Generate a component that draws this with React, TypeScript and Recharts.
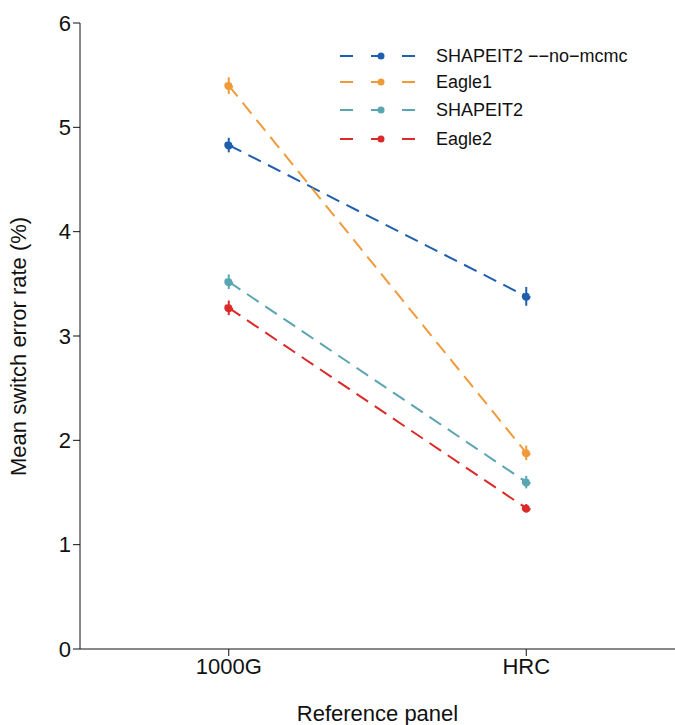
import React from 'react';
import { LineChart, Line, XAxis, YAxis, ErrorBar } from 'recharts';

const panels = ['1000G', 'HRC'];
const seriesNames = ['SHAPEIT2 --no-mcmc', 'Eagle1', 'SHAPEIT2', 'Eagle2'];
const colors = ['#1f5fad', '#f09a3a', '#5aa6b0', '#dc2a2a'];
const noMcmc = [4.83, 3.38];
const eagle1 = [5.40, 1.88];
const shapeit2 = [3.52, 1.60];
const eagle2 = [3.27, 1.35];
const noMcmcErr = [0.07, 0.09];
const eagle1Err = [0.08, 0.07];
const shapeit2Err = [0.07, 0.06];
const eagle2Err = [0.07, 0.04];

const values = [noMcmc, eagle1, shapeit2, eagle2];
const errors = [noMcmcErr, eagle1Err, shapeit2Err, eagle2Err];

const data = panels.map((p, i) => {
  const row: any = { x: i, name: p };
  values.forEach((v, s) => {
    row[`s${s}`] = v[i];
    row[`e${s}`] = errors[s][i];
  });
  return row;
});

const font = '"Liberation Sans", Arial, sans-serif';

const LegendBox = () => (
  <svg style={{ position: 'absolute', left: 0, top: 0 }} width={675} height={200}>
    {seriesNames.map((n, i) => {
      const y = [56, 82, 110, 139][i];
      return (
        <g key={n}>
          <line x1={340} x2={420} y1={y} y2={y} stroke={colors[i]} strokeWidth={2} strokeDasharray="13 18" />
          <circle cx={381} cy={y} r={3.5} fill={colors[i]} />
          <text x={436} y={y + 6} fontSize={18} fontFamily={font} fill="#111">{n.replace(/-/g, '\u2212')}</text>
        </g>
      );
    })}
  </svg>
);

export default function App() {
  return (
    <div style={{ position: 'absolute', left: 0, top: 0, width: 675, height: 725 }}>
      <LineChart width={675} height={725} data={data} margin={{ top: 23, right: 0, left: 0, bottom: 0 }}>
        <XAxis
          dataKey="x" type="number" domain={[-0.5, 1.5]} ticks={[0, 1]}
          tickFormatter={(v) => panels[v]} height={76}
          tick={{ fontSize: 22, fill: '#111', fontFamily: font }} stroke="#111" tickSize={7}
          label={{ value: 'Reference panel', position: 'insideBottom', offset: 4, fontSize: 22, fill: '#111', fontFamily: font }}
        />
        <YAxis
          type="number" domain={[0, 6]} ticks={[0, 1, 2, 3, 4, 5, 6]} width={80}
          tick={{ fontSize: 22, fill: '#111', fontFamily: font }} stroke="#111" tickSize={7}
          label={{ value: 'Mean switch error rate (%)', angle: -90, position: 'insideLeft', offset: 18, dy: 140, fontSize: 22, fill: '#111', fontFamily: font }}
        />
        {seriesNames.map((n, i) => (
          <Line key={n} dataKey={`s${i}`} name={n} stroke={colors[i]} strokeWidth={2}
            strokeDasharray="14 8" dot={{ r: 3.5, fill: colors[i], stroke: colors[i] }}
            isAnimationActive={false}>
            <ErrorBar dataKey={`e${i}`} direction="y" width={0} stroke={colors[i]} strokeWidth={2} />
          </Line>
        ))}
      </LineChart>
      <LegendBox />
    </div>
  );
}
